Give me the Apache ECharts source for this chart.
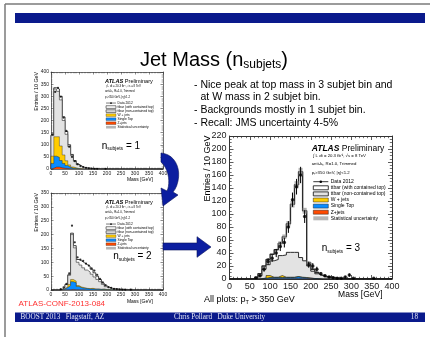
<!DOCTYPE html>
<html><head><meta charset="utf-8">
<script src="https://cdn.jsdelivr.net/npm/echarts@6/dist/echarts.min.js"></script>
<style>html,body{margin:0;padding:0;background:#fff;overflow:hidden}#c{width:430px;height:337px}</style>
</head><body><div id="c"></div>
<script>
// ---------------- data ----------------
const binLow = [0,10,20,30,40,50,60,70,80,90,100,110,120,130,140,150,160,170,180,190,200,210,220,230,240,250,260,270,280,290,300,310,320,330,340,350,360,370,380,390];
const binWidth = 10;

// n_subjets = 1
const p1_zjets = [3,8,8,5,3,2,1,0.5];
const p1_singleTop = [20,45,40,30,20,12,6,3,2,1,0.5];
const p1_wjets = [30,80,85,60,35,20,10,5,3,1,0.5];
const p1_ttNonContained = [85,197,187,190,142,109,75,46.5,27,16,10,6,4,3,2,1,1];
const p1_ttContained = [2,5,10,15,15,12,8,5,3,2,1,1];
const p1_data = [143,318,335,298,212,157,92,50,32,20,12,8,5,3,2,1,1,0,0,1];

// n_subjets = 2
const p2_zjets = [0,0,0,0,0.5,1,1,2,1,1,0.5,0.5];
const p2_singleTop = [0,0,0,1,3,8,15,28,25,12,8,6,5,4,4,3,3,2,2,1,1,0.5];
const p2_wjets = [0,0,0,0,1,2,4,8,6,3,2,2,1,1,2,1,1,0.5,2,0.5,0.5];
const p2_ttNonContained = [0,0,0,1,3.5,9,33,162,120,84,79.5,71.5,66,60,51,43,34,27.5,16,10.5,6.5,4.5,3.5,3,2,2,1,1];
const p2_ttContained = [0,0,0,0,0,0,2,5,8,10,15,18,20,20,18,15,12,8,5,3,2,1,0.5];
const p2_data = [0,0,0,3,10,22,60,232,172,118,110,105,95,88,78,70,55,40,28,18,10,8,4,3,2,1,1,0,1];

// n_subjets = 3
const p3_zjets = [0,0,0,0,0,0,0,0,0,0.3,0.3,0.3,0.3,0.3,0.3,0.3,0.3,0.3,0.3,0.2,0.1];
const p3_singleTop = [0,0,0,0,0,0,0,0.5,1,2,2,2,2,2,2,2,3,2,1.5,1,0.5,0.5];
const p3_wjets = [0,0,0,0,0,0,0,0,0.5,3,0.5,0.5,3,0.5,0.5,0.5,0.5,0.5,0.5,0.3,0.2];
const p3_ttNonContained = [0,0,0,0,0,0,1,4.5,13.5,16.7,25.2,27.2,30.7,34.2,38.2,38.2,37.2,30.2,25.7,18.5,11.2,7.5,5,3,2,1.5,1,0.8,0.5,0.5,0.3,0.3,0.3,0.3,0.3,0.3,0.3,0.3,0.3,0.3];
const p3_ttContained = [0,0,0,0,0,0.5,2,3,5,8,10,15,19,28,44,74,104,132,77,5,3,2,1,1,1,0.5,0.2,0.2,0.1];
const p3_data = [0,0,0,0,0,0,2,5,15,27,32,40,50,56,80,122,142,160,96,22,20,15,8,5,3,2,1,1,3,6,1,0,0,0,0,1];
const p3_dataErr = [0,0,0,0,0,0,1.5,2.2,3.9,5.2,5.7,6.3,7,7.5,9,11,12,12.6,9.8,4.7,4.5,3.9,2.8,2.2,1.7,1.4,1,1,1.7,2.4,1,0,0,0,0,1];
const p3_statErr = [0,0,0,0,0,0,0,0,0,0,0,0,3,3.5,4,5,5.5,6,4.5,2];

const xTicks = {min:0, max:400, interval:50};
const legendLabels = ['Data 2012','ttbar (with contained top)','ttbar (non-contained top)','W + jets','Single Top','Z+jets','Statistical uncertainty'];
const bulletLines = ['- Nice peak at top mass in 3 subjet bin and','at W mass in 2 subjet bin.','- Backgrounds mostly in 1 subjet bin.','- Recall: JMS uncertainty 4-5%'];

// ---------------- helpers ----------------
const FONT = '"Liberation Sans", Arial, sans-serif';
const SERIF = '"Liberation Serif", "Times New Roman", serif';
const mctx = document.createElement('canvas').getContext('2d');
function tw(t, size, weight, style, fam){ mctx.font = `${style||'normal'} ${weight||'normal'} ${size}px ${fam||FONT}`; return mctx.measureText(t).width; }
function txt(x, y, t, size, o){
  o = o || {};
  return {type:'text', x:x, y:y, z:100, rotation:o.rot||0, silent:true,
    style:{text:t, fontSize:size, fontFamily:o.fam||FONT, fontWeight:o.weight||'normal', fontStyle:o.style||'normal',
      fill:o.color||'#000', align:o.align||'left', verticalAlign:o.va||'middle', textAlign:o.align||'left', textVerticalAlign:o.va||'middle'}};
}
function segs(x, y, parts, align){
  const total = parts.reduce((s,p)=>s+tw(p.t,p.size,p.weight,p.style,p.fam),0);
  let cx = align==='center' ? x-total/2 : (align==='right' ? x-total : x);
  return parts.map(p=>{ const el = txt(cx, y+(p.dy||0), p.t, p.size, p); cx += tw(p.t,p.size,p.weight,p.style,p.fam); return el; });
}
function val(a,i){ return a[i]||0; }
function cum(arrs){ return binLow.map((_,i)=>arrs.reduce((s,a)=>s+val(a,i),0)); }
function step(v){
  const d=[[binLow[0],0]];
  binLow.forEach((x,i)=>d.push([x,v[i]]));
  const end = binLow[binLow.length-1]+binWidth;
  d.push([end,v[v.length-1]]); d.push([end,0]);
  return d;
}
function bez(p0,p1,p2,p3,n){
  const out=[];
  for(let i=1;i<=n;i++){ const t=i/n, u=1-t;
    out.push([u*u*u*p0[0]+3*u*u*t*p1[0]+3*u*t*t*p2[0]+t*t*t*p3[0], u*u*u*p0[1]+3*u*u*t*p1[1]+3*u*t*t*p2[1]+t*t*t*p3[1]]); }
  return out;
}

const plots = [
  {zj:p1_zjets, st:p1_singleTop, wj:p1_wjets, nc:p1_ttNonContained, c:p1_ttContained, data:p1_data,
   ymax:400, yint:50, ysplit:5, grid:{left:51, top:72, width:112, height:97}, fs:5, lm:2, axw:0.7, tick:2.5, lwT:0.9, lw:0.6, sym:2.2},
  {zj:p2_zjets, st:p2_singleTop, wj:p2_wjets, nc:p2_ttNonContained, c:p2_ttContained, data:p2_data,
   ymax:350, yint:50, ysplit:5, grid:{left:51, top:193, width:112, height:97}, fs:5, lm:2, axw:0.7, tick:2.5, lwT:0.9, lw:0.6, sym:2.2},
  {zj:p3_zjets, st:p3_singleTop, wj:p3_wjets, nc:p3_ttNonContained, c:p3_ttContained, data:p3_data, err:p3_dataErr, stat:p3_statErr,
   ymax:220, yint:20, ysplit:4, grid:{left:229.5, top:136, width:162.5, height:143}, fs:9, lm:3, axw:1, tick:4, lwT:1.4, lw:1, sym:3.5}
];

const xAxis=[], yAxis=[], series=[];
function mkAxis(k,p,isX,second){
  return {type:'value', gridIndex:k, min:isX?xTicks.min:0, max:isX?xTicks.max:p.ymax, interval:isX?xTicks.interval:p.yint,
    position: isX ? (second?'top':'bottom') : (second?'right':'left'),
    axisLine:{show:true,onZero:false,lineStyle:{color:'#333',width:p.axw}},
    axisTick:{show:true,inside:true,length:p.tick,lineStyle:{color:'#333',width:p.axw*0.8}},
    minorTick:{show:true,splitNumber:isX?5:p.ysplit,length:p.tick*0.55,lineStyle:{color:'#333',width:p.axw*0.7}},
    axisLabel:{show:!second,fontSize:p.fs,color:'#1a1a1a',fontFamily:FONT,margin:p.lm},
    splitLine:{show:false}, minorSplitLine:{show:false}};
}
plots.forEach((p,k)=>{ xAxis.push(mkAxis(k,p,true,false)); yAxis.push(mkAxis(k,p,false,false)); });
plots.forEach((p,k)=>{ xAxis.push(mkAxis(k,p,true,true)); yAxis.push(mkAxis(k,p,false,true)); });

plots.forEach((p,k)=>{
  const layers = [
    [cum([p.zj,p.st,p.wj,p.nc,p.c]), '#ffffff', p.lwT, '#2b2b2b'],
    [cum([p.zj,p.st,p.wj,p.nc]), '#e3e3e3', p.lw, '#2b2b2b'],
    [cum([p.zj,p.st,p.wj]), '#ffcc00', p.lw*0.6, '#111'],
    [cum([p.zj,p.st]), '#0a8cff', p.lw*0.6, '#111'],
    [cum([p.zj]), '#ff4a00', p.lw*0.6, '#111']
  ];
  layers.forEach(([v,fill,w,stroke],j)=>{
    series.push({type:'line', xAxisIndex:k, yAxisIndex:k, data:step(v), step:'end', symbol:'none', showSymbol:false,
      areaStyle:{color:fill, opacity:1}, lineStyle:{color:stroke, width:w}, silent:true, animation:false, z:2+j*0.01});
  });
  if (p.stat){
    const tot = layers[0][0];
    series.push({type:'custom', xAxisIndex:k, yAxisIndex:k, silent:true, animation:false, z:3,
      data: binLow.map((x,i)=>[x, tot[i], val(p.stat,i)]).filter(d=>d[2]>0),
      renderItem:(params,api)=>{
        const a=api.coord([api.value(0), api.value(1)+api.value(2)]);
        const b=api.coord([api.value(0)+binWidth, api.value(1)-api.value(2)]);
        return {type:'rect', shape:{x:a[0],y:a[1],width:b[0]-a[0],height:b[1]-a[1]}, style:{fill:'rgba(150,150,150,0.75)'}};
      }});
  }
  if (p.err){
    series.push({type:'custom', xAxisIndex:k, yAxisIndex:k, silent:true, animation:false, z:4,
      data: binLow.map((x,i)=>[x+binWidth/2, val(p.data,i), val(p.err,i)]).filter(d=>d[1]>0),
      renderItem:(params,api)=>{
        const a=api.coord([api.value(0), api.value(1)-api.value(2)]);
        const b=api.coord([api.value(0), api.value(1)+api.value(2)]);
        return {type:'line', shape:{x1:a[0],y1:a[1],x2:b[0],y2:b[1]}, style:{stroke:'#000',lineWidth:1}};
      }});
  }
  series.push({type:'scatter', xAxisIndex:k, yAxisIndex:k, silent:true, animation:false, z:5, symbol:'circle', symbolSize:p.sym,
    itemStyle:{color:'#000'}, data: binLow.map((x,i)=>[x+binWidth/2, val(p.data,i)]).filter(d=>d[1]>0)});
});

// ---------------- decorations ----------------
const G = [];
G.push({type:'line', z:100, shape:{x1:5,y1:4,x2:430,y2:4}, style:{stroke:'#7a7a7a',lineWidth:1.5}});
G.push({type:'line', z:100, shape:{x1:5,y1:4,x2:5,y2:337}, style:{stroke:'#7a7a7a',lineWidth:1.5}});
G.push({type:'rect', z:100, shape:{x:15,y:13,width:410,height:10}, style:{fill:'#0a1a8c'}});
G.push({type:'rect', z:100, shape:{x:15,y:312.5,width:410,height:9.5}, style:{fill:'#0a1a8c'}});
G.push(txt(20.5,317.3,'BOOST 2013   Flagstaff, AZ',7.2,{fam:SERIF,color:'#e6e8f5'}));
G.push(txt(219.5,317.3,'Chris Pollard   Duke University',7.2,{fam:SERIF,color:'#e6e8f5',align:'center'}));
G.push(txt(418,317.3,'18',7.2,{fam:SERIF,color:'#e6e8f5',align:'right'}));
G.push(...segs(214,60,[{t:'Jet Mass (n',size:20},{t:'subjets',size:12,dy:5},{t:')',size:20}],'center'));
G.push(txt(194,85,bulletLines[0],10.5));
G.push(txt(200.5,97.5,bulletLines[1],10.5));
G.push(txt(194,110,bulletLines[2],10.5));
G.push(txt(194,122.7,bulletLines[3],10.5));
[[101.7,146,'1'],[113.3,256.7,'2'],[321.7,248.3,'3']].forEach(([x,y,n])=>{
  G.push(...segs(x,y,[{t:'n',size:10},{t:'subjets',size:5,dy:3},{t:' = '+n,size:10}],'left'));
});
G.push(txt(208,135.5,'Entries / 10 GeV',9,{rot:Math.PI/2,align:'right'}));
G.push(txt(37,72,'Entries / 10 GeV',5.3,{rot:Math.PI/2,align:'right'}));
G.push(txt(37,193,'Entries / 10 GeV',5.3,{rot:Math.PI/2,align:'right'}));
G.push(txt(382.5,295,'Mass [GeV]',8.5,{align:'right'}));
G.push(txt(153,180,'Mass [GeV]',5,{align:'right'}));
G.push(txt(153,302,'Mass [GeV]',5,{align:'right'}));
G.push(txt(18.5,304,'ATLAS-CONF-2013-084',8,{color:'#ff3131'}));
G.push(...segs(204,300,[{t:'All plots: p',size:9},{t:'T',size:5.5,dy:2.5},{t:' > 350 GeV',size:9}],'left'));
function legendGroup(x,y,s){
  const ch=[];
  ch.push(txt(0,0,'ATLAS',8.5,{weight:'bold',style:'italic'}));
  ch.push(txt(tw('ATLAS ',8.5,'bold','italic'),0,'Preliminary',8.5));
  ch.push(txt(1.5,7.7,'\u222B L dt = 20.3 fb\u207B\u00B9, \u221As = 8 TeV',4.3));
  ch.push(txt(0,16,'anti-k\u209C, R=1.0, Trimmed',4.3));
  ch.push(txt(0,24.4,'p\u209C>350 GeV, |\u03B7|<1.2',4.3));
  const fills=[null,'#ffffff','#e3e3e3','#ffcc00','#0a8cff','#ff4a00','#b5b5b5'];
  legendLabels.forEach((lab,i)=>{
    const yy=33.4+6.1*i;
    if(i===0){
      ch.push({type:'line',shape:{x1:1.6,y1:yy,x2:16.6,y2:yy},style:{stroke:'#000',lineWidth:0.8}});
      ch.push({type:'circle',shape:{cx:9.1,cy:yy,r:1.3},style:{fill:'#000'}});
    } else {
      const st = {fill:fills[i], lineWidth:i<3?0.9:0.5};
      if(i!==6) st.stroke='#222';
      ch.push({type:'rect',shape:{x:1.6,y:yy-2,width:15,height:4},style:st});
    }
    ch.push(txt(19,yy,lab,5));
  });
  return {type:'group', x:x, y:y, scaleX:s, scaleY:s, z:100, silent:true, children:ch};
}
G.push(legendGroup(311.7,148.3,1));
G.push(legendGroup(105,81,0.66));
G.push(legendGroup(105,202,0.66));
// curved arrow (polygon sampled from bezier curves)
const arrowPts = [[161,153]]
  .concat(bez([161,153],[174,154],[181,167],[178,181],10))
  .concat(bez([178,181],[177,186],[175,190],[173,192],3))
  .concat([[178,195],[163,206],[161,188],[167,191]])
  .concat(bez([167,191],[170,185],[170,170],[161,162],10));
G.push({type:'polygon', z:100, shape:{points:arrowPts}, style:{fill:'#0c1ea0',stroke:'#06105a',lineWidth:0.6}});
G.push({type:'polygon', z:100, shape:{points:[[163,243],[197,243],[197,236.7],[211,247],[197,257.3],[197,250],[163,250]]},
  style:{fill:'#0c1ea0',stroke:'#06105a',lineWidth:0.6}});

const chart = echarts.init(document.getElementById('c'), null, {renderer:'canvas', width:430, height:337});
chart.setOption({animation:false, backgroundColor:'#fff', grid:plots.map(p=>p.grid), xAxis, yAxis, series, graphic:{elements:G}});
</script></body></html>
